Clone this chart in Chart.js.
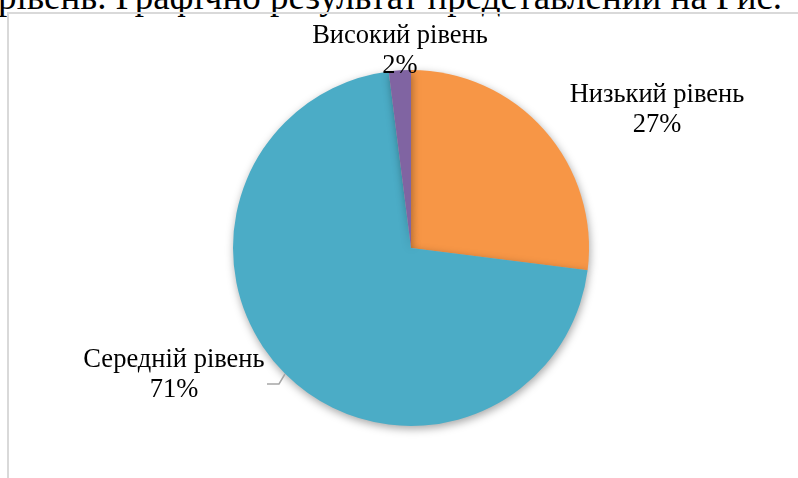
<!DOCTYPE html>
<html>
<head>
<meta charset="utf-8">
<script src="https://cdn.jsdelivr.net/npm/chart.js@4"></script>
<style>
  html, body { margin: 0; padding: 0; background: #fff; }
  body { width: 798px; height: 478px; position: relative; overflow: hidden; }
  #topText { position: absolute; left: -2px; top: -24px; font-family: "Liberation Serif", "Times New Roman", serif; font-size: 37px; line-height: 41px; color: #000; white-space: nowrap; }
  #frame { position: absolute; left: 7px; top: 12px; width: 800px; height: 470px; border-left: 2px solid #d9d9d9; border-top: 2px solid #d9d9d9; box-sizing: border-box; }
  #wrap { position: absolute; left: 0; top: 0; width: 798px; height: 478px; }
</style>
</head>
<body>
<div id="topText">рівень. Графічно результат представлений на Рис.</div>
<div id="frame"></div>
<div id="wrap"><canvas id="c" width="798" height="478"></canvas></div>
<script>
const categories = ["Низький рівень", "Середній рівень", "Високий рівень"];
const values = [27, 71, 2];
const percentLabels = ["27%", "71%", "2%"];
const colors = ["#F79646", "#4BACC6", "#8064A2"];

const shadowPlugin = {
  id: 'shadow',
  beforeDatasetsDraw(chart) {
    const ctx = chart.ctx;
    ctx.save();
    ctx.shadowColor = 'rgba(0,0,0,0.35)';
    ctx.shadowBlur = 9;
    ctx.shadowOffsetX = 1;
    ctx.shadowOffsetY = 3;
  },
  afterDatasetsDraw(chart) {
    chart.ctx.restore();
  }
};

// label baseline offsets relative to pie centre
const labelPos = [
  { dx: 246, dy: -146 },
  { dx: -237, dy: 119 },
  { dx: -11, dy: -205 }
];

const labelPlugin = {
  id: 'labels',
  afterDraw(chart) {
    const ctx = chart.ctx;
    const arc = chart.getDatasetMeta(0).data[0];
    const cx = arc.x, cy = arc.y;
    ctx.save();
    ctx.fillStyle = '#000';
    ctx.font = '26.5px "Liberation Serif", "Times New Roman", serif';
    ctx.textAlign = 'center';
    ctx.textBaseline = 'alphabetic';
    categories.forEach((name, i) => {
      const p = labelPos[i];
      ctx.fillText(name, cx + p.dx, cy + p.dy);
      ctx.fillText(percentLabels[i], cx + p.dx, cy + p.dy + 30);
    });
    // leader line for Середній рівень
    ctx.strokeStyle = '#a6a6a6';
    ctx.lineWidth = 1.5;
    ctx.beginPath();
    ctx.moveTo(cx - 144, cy + 136);
    ctx.lineTo(cx - 132, cy + 136);
    ctx.lineTo(cx - 126, cy + 126);
    ctx.stroke();
    ctx.restore();
  }
};

new Chart(document.getElementById('c'), {
  type: 'pie',
  data: {
    labels: categories,
    datasets: [{
      data: values,
      backgroundColor: colors,
      borderWidth: 0
    }]
  },
  options: {
    responsive: false,
    animation: false,
    layout: { padding: { left: 233, right: 209, top: 70, bottom: 52 } },
    plugins: { legend: { display: false }, tooltip: { enabled: false } }
  },
  plugins: [shadowPlugin, labelPlugin]
});
</script>
</body>
</html>
